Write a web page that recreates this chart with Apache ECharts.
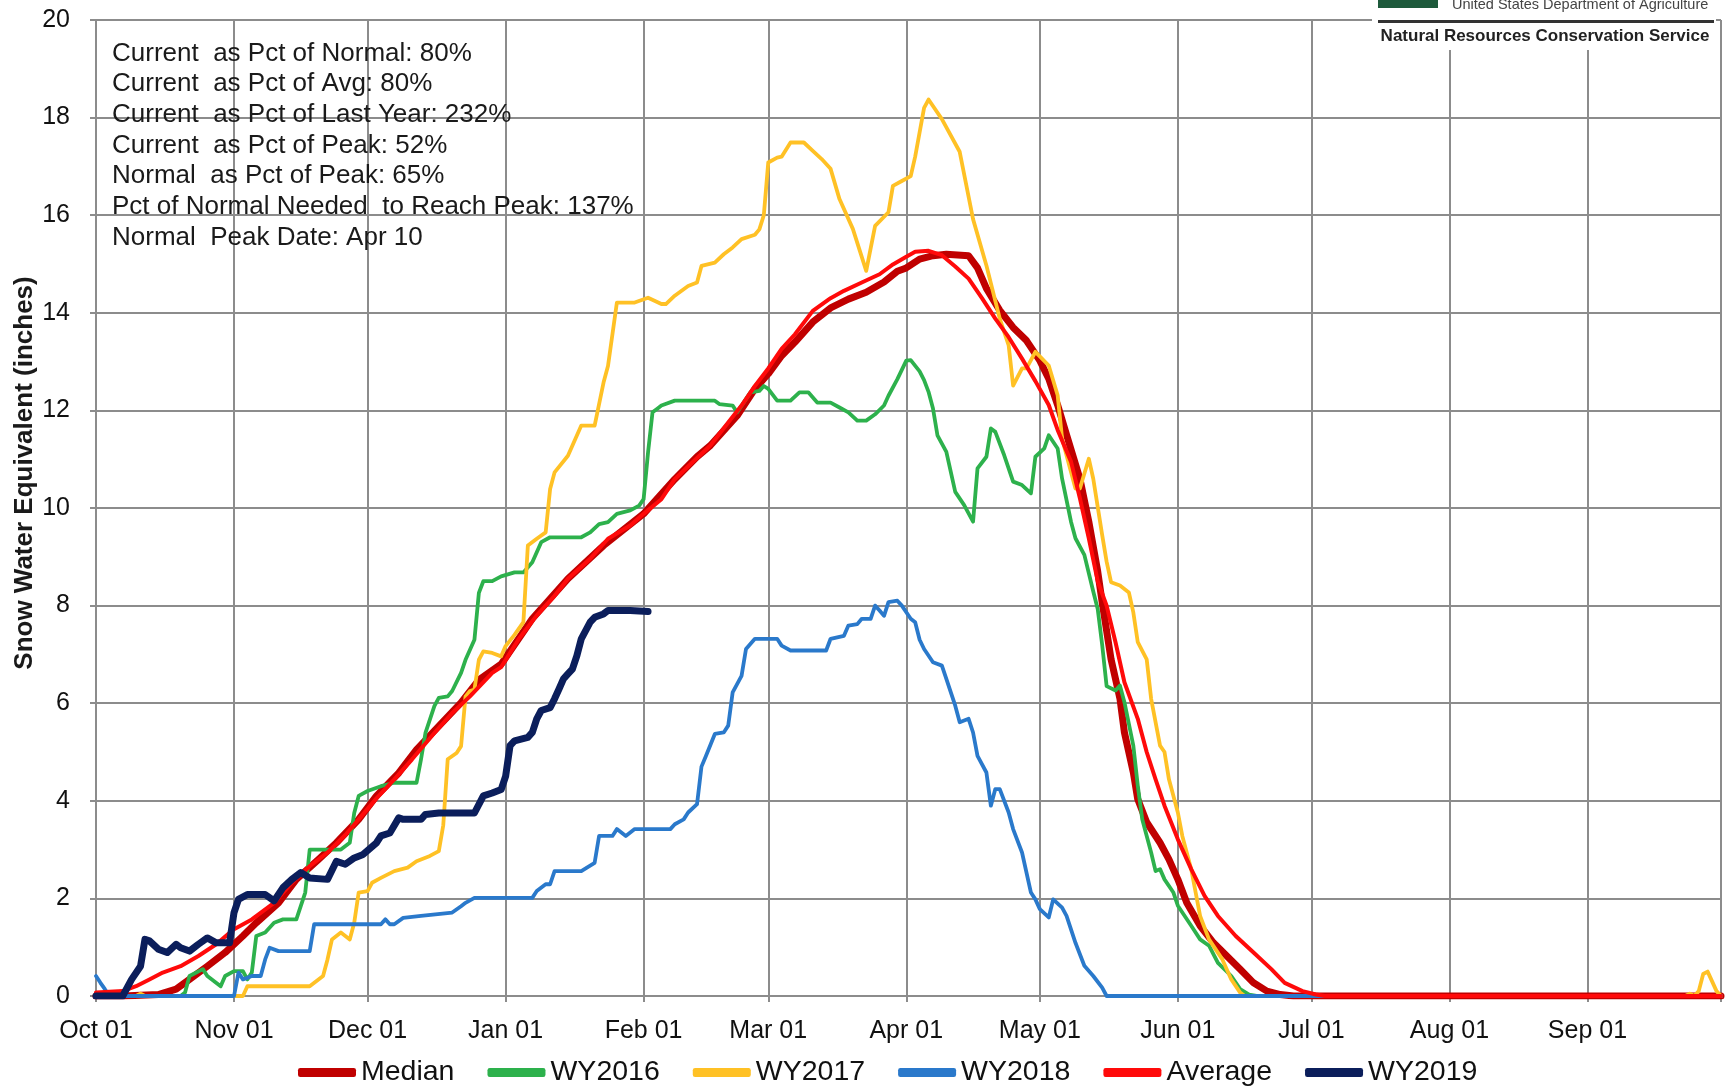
<!DOCTYPE html>
<html>
<head>
<meta charset="utf-8">
<script src="https://cdn.jsdelivr.net/npm/echarts@6/dist/echarts.min.js"></script>
<style>
html,body{margin:0;padding:0;background:#fff;}
#chart{width:1733px;height:1086px;}
</style>
</head>
<body>
<div id="chart"></div>
<script>
// ---- tick labels / categories (water year Oct 1 .. Sep 30, plus closing Oct 01) ----
const monthNames = ['Oct','Nov','Dec','Jan','Feb','Mar','Apr','May','Jun','Jul','Aug','Sep'];
const monthLengths = [31,30,31,31,28,31,30,31,30,31,31,30];
const closingLabel = 'Oct 01';
const yTicks = {min: 0, max: 20, interval: 2};

// ---- series values: [day index from Oct 01, inches] ----
const median = [[0,0],[6,0],[14,0.03],[18,0.14],[21,0.34],[25,0.61],[29,0.89],[33,1.23],[36,1.5],[41,1.91],[45,2.39],[50,2.8],[54,3.14],[59,3.62],[63,4.1],[68,4.57],[72,5.05],[77,5.53],[82,6.01],[86,6.48],[91,6.8],[98,7.73],[106,8.55],[114,9.23],[123,9.88],[130,10.59],[135,11.05],[138,11.28],[144,11.89],[148,12.44],[151,12.75],[154,13.12],[157,13.4],[161,13.81],[165,14.1],[169,14.28],[173,14.42],[177,14.63],[180,14.85],[182,14.92],[185,15.1],[188,15.17],[191,15.2],[196,15.17],[198,14.92],[200,14.5],[203,14.05],[206,13.7],[209,13.43],[212,13.02],[214,12.65],[216,12.11],[218,11.5],[221,10.6],[223,9.72],[225,8.7],[226,8.07],[228,6.9],[230,6.09],[231,5.4],[233,4.58],[234,4.03],[236,3.56],[239,3.14],[241,2.8],[243,2.39],[245,1.91],[248,1.44],[251,1.09],[254,0.82],[257,0.55],[260,0.27],[263,0.1],[266,0.03],[269,0],[365,0]];

const wy2016 = [[0,0],[19,0],[20,0.07],[21,0.41],[24,0.55],[25,0.41],[28,0.2],[29,0.41],[31,0.51],[33,0.51],[34,0.34],[35,0.48],[36,1.23],[38,1.3],[40,1.5],[42,1.57],[45,1.57],[47,2.12],[48,3.0],[55,3.0],[57,3.14],[58,3.75],[59,4.1],[61,4.2],[64,4.3],[67,4.37],[72,4.37],[73,4.85],[74,5.39],[76,5.94],[77,6.11],[79,6.14],[80,6.25],[82,6.62],[83,6.89],[85,7.3],[86,8.26],[87,8.5],[89,8.5],[91,8.6],[94,8.68],[96,8.68],[98,8.89],[100,9.3],[102,9.4],[109,9.4],[111,9.5],[113,9.67],[115,9.71],[117,9.88],[120,9.95],[122,10.05],[123,10.18],[124,11.14],[125,11.96],[126,12.03],[127,12.1],[130,12.2],[139,12.2],[140,12.13],[143,12.1],[144,11.96],[147,12.37],[149,12.4],[150,12.5],[151,12.44],[153,12.2],[156,12.2],[158,12.37],[160,12.37],[162,12.16],[165,12.16],[167,12.06],[169,11.96],[171,11.79],[173,11.79],[175,11.92],[177,12.1],[178,12.3],[180,12.64],[182,13.02],[183,13.03],[185,12.8],[186,12.62],[187,12.38],[188,12.04],[189,11.49],[191,11.15],[193,10.33],[195,10.06],[197,9.72],[198,10.81],[200,11.05],[201,11.63],[202,11.56],[204,11.08],[206,10.54],[208,10.47],[210,10.3],[211,11.05],[213,11.22],[214,11.49],[216,11.22],[217,10.6],[219,9.72],[220,9.38],[222,9.04],[224,8.29],[225,7.93],[226,7.2],[227,6.35],[229,6.26],[230,6.36],[231,6.02],[233,5.13],[234,4.31],[235,3.62],[237,2.94],[238,2.56],[239,2.6],[240,2.39],[242,2.12],[243,1.85],[246,1.44],[248,1.16],[250,1.03],[252,0.68],[255,0.41],[257,0.14],[259,0.03],[261,0],[365,0]];

const wy2017 = [[0,0],[9,0],[10,0.05],[11,0],[33,0],[34,0.2],[48,0.2],[51,0.41],[52,0.75],[53,1.16],[55,1.3],[57,1.16],[58,1.5],[59,2.12],[61,2.15],[62,2.32],[64,2.42],[67,2.56],[70,2.63],[72,2.76],[75,2.87],[77,2.97],[78,3.5],[79,4.85],[81,4.98],[82,5.12],[83,6.14],[84,6.25],[85,6.28],[86,6.89],[87,7.06],[89,7.03],[91,6.96],[92,7.17],[94,7.4],[96,7.66],[97,9.23],[99,9.37],[101,9.5],[102,10.39],[103,10.73],[106,11.07],[109,11.69],[112,11.69],[114,12.57],[115,12.91],[117,14.21],[121,14.21],[124,14.31],[127,14.18],[128,14.18],[130,14.35],[133,14.55],[135,14.62],[136,14.96],[139,15.03],[141,15.2],[143,15.34],[145,15.51],[148,15.6],[149,15.71],[150,16.0],[151,17.08],[153,17.18],[154,17.2],[156,17.49],[159,17.49],[161,17.32],[163,17.15],[165,16.95],[167,16.33],[170,15.72],[173,14.86],[175,15.78],[178,16.06],[179,16.6],[181,16.7],[183,16.8],[184,17.2],[186,18.2],[187,18.37],[190,17.97],[194,17.3],[197,15.92],[200,14.97],[203,13.88],[205,13.33],[206,12.51],[208,12.86],[209,12.86],[211,13.2],[214,12.92],[216,12.31],[217,11.42],[220,10.4],[221,10.4],[223,11.01],[224,10.6],[226,9.45],[227,8.9],[228,8.48],[230,8.41],[232,8.27],[233,7.86],[234,7.25],[236,6.9],[237,6.09],[239,5.13],[240,5.0],[241,4.44],[243,3.76],[244,3.28],[246,2.6],[248,1.64],[250,1.16],[253,0.75],[255,0.34],[257,0.07],[258,0],[357,0],[358,0.05],[359,0],[360,0.1],[361,0.45],[362,0.5],[363,0.3],[364,0.1],[365,0]];

const wy2018 = [[0,0.41],[1,0.27],[2,0.14],[3,0],[31,0],[32,0.48],[33,0.34],[35,0.41],[37,0.41],[38,0.75],[39,0.99],[41,0.92],[48,0.92],[49,1.47],[64,1.47],[65,1.57],[66,1.47],[67,1.47],[69,1.6],[73,1.64],[80,1.71],[82,1.84],[83,1.91],[85,2.01],[98,2.01],[99,2.15],[101,2.29],[102,2.29],[103,2.56],[109,2.56],[112,2.73],[113,3.28],[116,3.28],[117,3.42],[119,3.28],[121,3.42],[129,3.42],[130,3.52],[132,3.62],[133,3.76],[135,3.93],[136,4.7],[137,4.92],[139,5.37],[141,5.4],[142,5.54],[143,6.22],[145,6.56],[146,7.11],[148,7.32],[153,7.32],[154,7.18],[156,7.08],[164,7.08],[165,7.32],[168,7.38],[169,7.59],[171,7.62],[172,7.73],[174,7.73],[175,8.0],[176,7.9],[177,7.79],[178,8.07],[180,8.1],[181,8.0],[183,7.73],[184,7.66],[185,7.3],[186,7.11],[188,6.84],[190,6.77],[191,6.5],[193,5.95],[194,5.61],[196,5.68],[197,5.4],[198,4.92],[200,4.58],[201,3.9],[202,4.24],[203,4.24],[205,3.76],[206,3.42],[208,2.94],[210,2.12],[211,1.98],[212,1.78],[214,1.61],[215,1.98],[217,1.81],[218,1.64],[220,1.09],[222,0.62],[224,0.41],[226,0.17],[227,0],[365,0]];

const average = [[0,0.07],[6,0.1],[9,0.2],[12,0.34],[15,0.48],[19,0.61],[23,0.82],[27,1.06],[31,1.37],[35,1.57],[40,1.91],[44,2.32],[48,2.66],[52,2.94],[56,3.3],[59,3.62],[63,4.05],[67,4.44],[71,4.85],[76,5.39],[80,5.8],[84,6.14],[89,6.62],[91,6.74],[95,7.32],[99,7.8],[103,8.2],[106,8.55],[111,8.96],[115,9.37],[120,9.64],[123,9.88],[127,10.18],[130,10.59],[134,10.94],[138,11.28],[142,11.75],[145,12.1],[148,12.5],[151,12.86],[154,13.26],[157,13.56],[161,14.04],[165,14.3],[168,14.45],[172,14.62],[176,14.79],[179,14.99],[182,15.15],[184,15.25],[187,15.27],[190,15.18],[193,14.95],[196,14.7],[199,14.3],[202,13.88],[205,13.5],[208,13.06],[211,12.6],[214,12.11],[216,11.6],[219,10.95],[221,10.2],[223,9.38],[225,8.5],[227,8.0],[229,7.25],[231,6.43],[234,5.68],[236,5.0],[238,4.44],[240,3.9],[243,3.21],[246,2.6],[249,2.05],[252,1.64],[256,1.23],[260,0.89],[264,0.55],[267,0.27],[271,0.1],[274,0.03],[276,0],[365,0]];

const wy2019 = [[0,0],[6,0],[8,0.34],[10,0.61],[11,1.16],[12,1.13],[14,0.96],[16,0.89],[18,1.06],[19,0.99],[21,0.92],[23,1.06],[25,1.19],[27,1.09],[30,1.09],[31,1.71],[32,1.98],[34,2.08],[38,2.08],[40,1.95],[42,2.22],[44,2.39],[46,2.53],[48,2.42],[52,2.39],[54,2.76],[56,2.7],[58,2.83],[60,2.9],[63,3.14],[64,3.28],[66,3.34],[68,3.65],[69,3.62],[73,3.62],[74,3.72],[77,3.75],[85,3.75],[87,4.1],[89,4.16],[91,4.23],[92,4.5],[93,5.13],[94,5.23],[97,5.3],[98,5.4],[99,5.68],[100,5.85],[102,5.91],[103,6.09],[104,6.29],[105,6.5],[106,6.6],[107,6.7],[108,6.97],[109,7.32],[111,7.66],[112,7.76],[114,7.83],[115,7.9],[120,7.9],[124,7.88]];

const seriesNames = ['Median','WY2016','WY2017','WY2018','Average','WY2019'];
const seriesColors = ['#C00000','#2DB14C','#FFC125','#2A79CB','#FF0A0A','#0B1E5B'];

const annotationLines = [
  'Current  as Pct of Normal: 80%',
  'Current  as Pct of Avg: 80%',
  'Current  as Pct of Last Year: 232%',
  'Current  as Pct of Peak: 52%',
  'Normal  as Pct of Peak: 65%',
  'Pct of Normal Needed  to Reach Peak: 137%',
  'Normal  Peak Date: Apr 10'
];

// ---- build categories ----
const categories = [];
const monthStarts = [];
monthNames.forEach((m, i) => {
  monthStarts.push(categories.length);
  for (let d = 1; d <= monthLengths[i]; d++) {
    categories.push(m + ' ' + (d < 10 ? '0' + d : '' + d));
  }
});
categories.push(closingLabel);
const lastIndex = categories.length - 1;
const isMonthStart = (idx) => monthStarts.indexOf(idx) >= 0;

const FONT = '"Liberation Sans", Arial, sans-serif';
const gridColor = '#8c8c8c';

const chart = echarts.init(document.getElementById('chart'), null, {renderer: 'canvas'});

const dataSets = [median, wy2016, wy2017, wy2018, average, wy2019];
const widths = [7, 3.8, 3.8, 3.8, 4, 7];

const option = {
  animation: false,
  backgroundColor: '#ffffff',
  textStyle: {fontFamily: FONT},
  grid: {left: 96, right: 12, top: 20, bottom: 90, containLabel: false},
  xAxis: {
    type: 'category',
    data: categories,
    boundaryGap: false,
    axisLine: {show: true, lineStyle: {color: gridColor, width: 2}},
    axisTick: {show: true, length: 6, interval: (i) => isMonthStart(i) || i === lastIndex, lineStyle: {color: gridColor, width: 2}},
    axisLabel: {interval: (i) => isMonthStart(i), fontSize: 25, color: '#111', margin: 23, fontFamily: FONT},
    splitLine: {show: true, interval: (i) => isMonthStart(i) || i === lastIndex, lineStyle: {color: gridColor, width: 2}}
  },
  yAxis: {
    type: 'value',
    min: yTicks.min, max: yTicks.max, interval: yTicks.interval,
    axisLine: {show: true, lineStyle: {color: gridColor, width: 2}},
    axisTick: {show: true, length: 6, lineStyle: {color: gridColor, width: 2}},
    axisLabel: {fontSize: 25, color: '#111', margin: 26, fontFamily: FONT},
    splitLine: {show: true, lineStyle: {color: gridColor, width: 2}}
  },
  legend: {
    left: 293, top: 1053,
    icon: 'roundRect',
    itemWidth: 58, itemHeight: 9, itemGap: 33,
    textStyle: {fontSize: 28.5, color: '#111', fontFamily: FONT},
    data: seriesNames
  },
  series: seriesNames.map((name, i) => ({
    name: name,
    type: 'line',
    data: dataSets[i],
    showSymbol: false,
    symbol: 'none',
    smooth: false,
    color: seriesColors[i],
    lineStyle: {color: seriesColors[i], width: widths[i], cap: 'round', join: 'round'},
    z: 2 + i
  })),
  graphic: [
    {
      type: 'text', left: 112, top: 38, z: 50,
      style: {text: annotationLines.join('\n'), font: '26px ' + FONT, fill: '#1a1a1a', lineHeight: 30.7}
    },
    {
      type: 'text', x: 25, y: 473, rotation: Math.PI / 2, z: 50,
      style: {text: 'Snow Water Equivalent (inches)', font: 'bold 26px ' + FONT, fill: '#1a1a1a', align: 'center', verticalAlign: 'middle'}
    },
    {type: 'rect', shape: {x: 1372, y: 0, width: 344, height: 50}, style: {fill: '#ffffff'}, z: 60},
    {type: 'rect', shape: {x: 1378, y: 0, width: 60, height: 8}, style: {fill: '#1E5A3C'}, z: 61},
    {type: 'text', x: 1452, y: 5, z: 61, style: {text: 'United States Department of Agriculture', font: '14.5px ' + FONT, fill: '#444', verticalAlign: 'middle'}},
    {type: 'rect', shape: {x: 1378, y: 20, width: 336, height: 3}, style: {fill: '#333'}, z: 61},
    {type: 'text', x: 1545, y: 36, z: 61, style: {text: 'Natural Resources Conservation Service', font: 'bold 17px ' + FONT, fill: '#222', align: 'center', verticalAlign: 'middle'}}
  ]
};
chart.setOption(option);
</script>
</body>
</html>
